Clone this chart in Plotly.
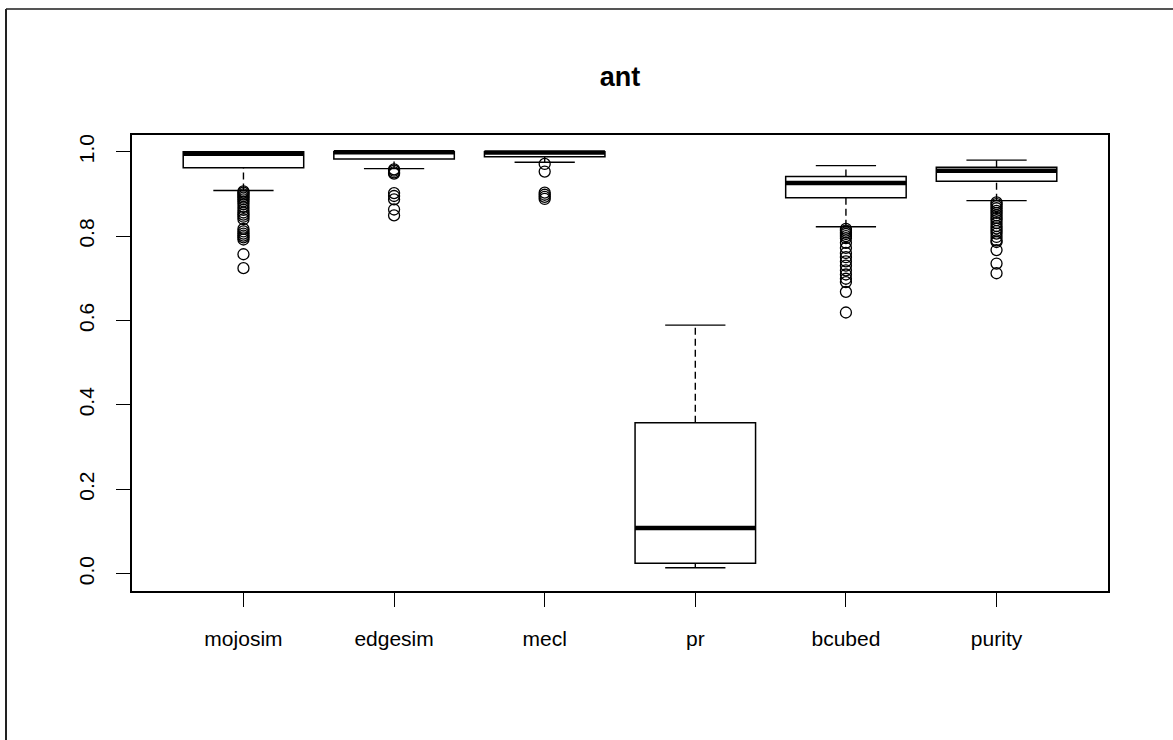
import plotly.graph_objects as go

# Summary statistics per similarity measure
categories = ["mojosim", "edgesim", "mecl", "pr", "bcubed", "purity"]
lower_whisker = [0.908, 0.960, 0.975, 0.014, 0.822, 0.884]
q1_vals = [0.962, 0.983, 0.988, 0.025, 0.891, 0.930]
median_vals = [0.995, 0.999, 0.998, 0.108, 0.926, 0.955]
q3_vals = [1.000, 1.000, 1.000, 0.358, 0.941, 0.963]
upper_whisker = [1.000, 1.000, 1.000, 0.589, 0.967, 0.980]

# Outlying observations per measure
mojosim_out = [0.906, 0.903, 0.899, 0.895, 0.891, 0.887, 0.882, 0.876, 0.869, 0.862,
               0.856, 0.851, 0.846, 0.840, 0.817, 0.811, 0.806, 0.801, 0.797, 0.792,
               0.757, 0.724]
edgesim_out = [0.958, 0.955, 0.951, 0.948, 0.902, 0.895, 0.887, 0.863, 0.849]
mecl_out = [0.971, 0.953, 0.903, 0.898, 0.893, 0.888]
pr_out = []
bcubed_out = [0.817, 0.813, 0.809, 0.805, 0.800, 0.795, 0.784, 0.772, 0.760, 0.750,
              0.740, 0.730, 0.719, 0.709, 0.699, 0.691, 0.668, 0.619]
purity_out = [0.880, 0.876, 0.871, 0.866, 0.860, 0.855, 0.849, 0.843, 0.838, 0.831,
              0.824, 0.818, 0.812, 0.806, 0.798, 0.790, 0.786, 0.767, 0.735, 0.712]
outliers = [mojosim_out, edgesim_out, mecl_out, pr_out, bcubed_out, purity_out]

y_ticks = [0.0, 0.2, 0.4, 0.6, 0.8, 1.0]
y_tick_labels = ["0.0", "0.2", "0.4", "0.6", "0.8", "1.0"]

FONT = "Liberation Sans, Arial, Helvetica, sans-serif"
BOX_W = 0.8
CAP_W = 0.4
positions = list(range(1, len(categories) + 1))

fig = go.Figure()

# Boxes (quartiles only; whiskers drawn separately as dashed lines)
for pos, a, m, b in zip(positions, q1_vals, median_vals, q3_vals):
    fig.add_trace(go.Box(
        x=[pos], q1=[a], median=[m], q3=[b], lowerfence=[a], upperfence=[b],
        width=BOX_W, fillcolor="white", line=dict(color="black", width=1.5),
        boxpoints=False, whiskerwidth=0, hoverinfo="skip", showlegend=False,
    ))

# Dashed whiskers from box edges to the extremes
wx, wy = [], []
for pos, lo, a, b, hi in zip(positions, lower_whisker, q1_vals, q3_vals, upper_whisker):
    wx += [pos, pos, None, pos, pos, None]
    wy += [lo, a, None, b, hi, None]
fig.add_trace(go.Scatter(x=wx, y=wy, mode="lines",
                         line=dict(color="black", width=1.4, dash="7px,4px"),
                         hoverinfo="skip", showlegend=False))

# Whisker caps
cx, cy = [], []
for pos, lo, hi in zip(positions, lower_whisker, upper_whisker):
    cx += [pos - CAP_W / 2, pos + CAP_W / 2, None, pos - CAP_W / 2, pos + CAP_W / 2, None]
    cy += [lo, lo, None, hi, hi, None]
fig.add_trace(go.Scatter(x=cx, y=cy, mode="lines",
                         line=dict(color="black", width=1.4),
                         hoverinfo="skip", showlegend=False))

# Thick median bars
mx, my = [], []
for pos, m in zip(positions, median_vals):
    mx += [pos - BOX_W / 2, pos + BOX_W / 2, None]
    my += [m, m, None]
fig.add_trace(go.Scatter(x=mx, y=my, mode="lines",
                         line=dict(color="black", width=4.5),
                         hoverinfo="skip", showlegend=False))

# Outliers as open circles
ox, oy = [], []
for pos, vals in zip(positions, outliers):
    ox += [pos] * len(vals)
    oy += vals
fig.add_trace(go.Scatter(x=ox, y=oy, mode="markers",
                         marker=dict(symbol="circle-open", size=11,
                                     color="black", line=dict(width=1.3)),
                         hoverinfo="skip", showlegend=False))

# Page frame lines (top and left)
L, R, T, B = 132, 1108, 135, 591
pw, ph = R - L, B - T
def px(x):
    return (x - L) / pw
def py(y):
    return (B - y) / ph

fig.add_shape(type="line", xref="paper", yref="paper",
              x0=px(6), x1=px(1173), y0=py(9), y1=py(9),
              line=dict(color="#555555", width=2))
fig.add_shape(type="line", xref="paper", yref="paper",
              x0=px(6), x1=px(6), y0=py(9), y1=py(740),
              line=dict(color="#222222", width=2))

fig.update_layout(
    width=1173, height=740,
    margin=dict(l=L, r=1173 - R, t=T, b=740 - B),
    paper_bgcolor="white", plot_bgcolor="white",
    font=dict(family=FONT, color="black", size=21),
    title=dict(text="<b>ant</b>", x=0.5, xanchor="center", xref="paper",
               y=1 - 77 / 740, yanchor="middle", yref="container",
               font=dict(family=FONT, size=27, color="black")),
    xaxis=dict(range=[0.26, 6.74], tickvals=positions, ticktext=categories,
               ticks="outside", ticklen=14, tickwidth=1.3, tickcolor="black",
               showline=True, linecolor="black", linewidth=1.5, mirror=True,
               showgrid=False, zeroline=False, ticklabelstandoff=14,
               tickfont=dict(size=21, family=FONT)),
    yaxis=dict(range=[-0.041, 1.0396], tickvals=y_ticks, ticktext=y_tick_labels,
               ticks="outside", ticklen=14, tickwidth=1.3, tickcolor="black",
               tickangle=-90, showline=True, linecolor="black", linewidth=1.5,
               mirror=True, showgrid=False, zeroline=False, ticklabelstandoff=14,
               tickfont=dict(size=21, family=FONT)),
)

fig.write_html("out.html")
